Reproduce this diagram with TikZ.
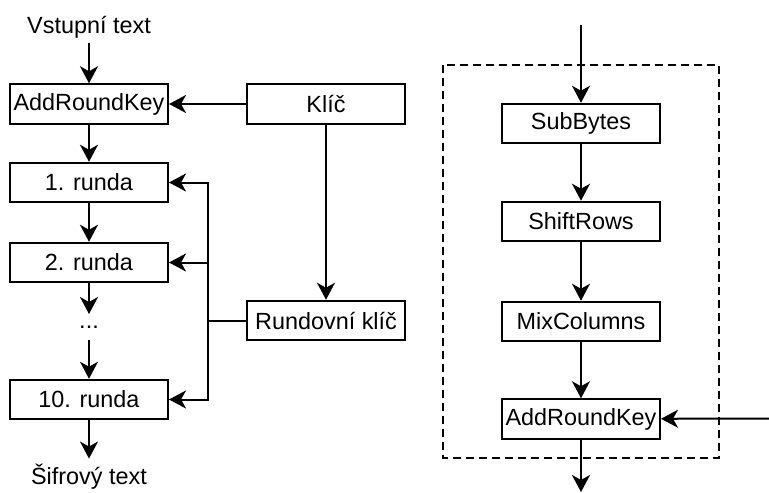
\documentclass[tikz,border=0pt]{standalone}
\usepackage{fontspec}
\setmainfont{Liberation Sans}
\usetikzlibrary{arrows.meta}

\begin{document}
\begin{tikzpicture}[x=1pt, y=-1pt,
  line width=2pt,
  font=\fontsize{23.4}{28}\selectfont,
  box/.style={draw, line width=2pt, minimum width=158pt, minimum height=39.5pt, inner sep=0pt},
  lbl/.style={inner sep=4pt, anchor=base},
  arr/.style={-{Stealth[length=17pt, width=18pt, inset=5pt]}, line width=2pt},
  frame/.style={draw, line width=2pt, dash pattern=on 8pt off 5pt}
]
\useasboundingbox (0,0) rectangle (769,493);

% encryption flow on the left
\node[lbl] (vst) at (89,33.5) {Vstupní text};
\node[box] (ark1) at (89,104) {AddRoundKey};
\node[box] (r1) at (89,182.5) {1. runda};
\node[box] (r2) at (89,262.5) {2. runda};
\node[inner sep=0pt, minimum height=24pt] (dots) at (89,327) {...};
\node[box] (r10) at (89,399.5) {10. runda};
\node[lbl] (sif) at (89,484) {Šifrový text};

\node[box] (key) at (326,104) {Klíč};
\node[box] (rk) at (326,320.5) {Rundovní klíč};

\draw[arr] (vst) -- (ark1);
\draw[arr] (ark1) -- (r1);
\draw[arr] (r1) -- (r2);
\draw[arr] (r2) -- (dots);
\draw[arr] (dots) -- (r10);
\draw[arr] (r10) -- (sif);

\draw[arr] (key) -- (ark1);
\draw[arr] (key) -- (rk);

% round keys distributed to every round
\coordinate (bus) at (208,320.5);
\draw (rk.west) -- (bus);
\draw[arr] (bus) |- (r1.east);
\draw[arr] (bus) |- (r2.east);
\draw[arr] (bus) |- (r10.east);

% one round in detail
\draw[frame] (443,65) rectangle (719,458);
\coordinate (in) at (581,25);
\coordinate (out) at (581,492);
\coordinate (kin) at (769,418.5);
\node[box] (sb) at (581,123.5) {SubBytes};
\node[box] (sr) at (581,221.5) {ShiftRows};
\node[box] (mc) at (581,321.5) {MixColumns};
\node[box] (ark2) at (581,419) {AddRoundKey};

\draw[arr] (in) -- (sb);
\draw[arr] (sb) -- (sr);
\draw[arr] (sr) -- (mc);
\draw[arr] (mc) -- (ark2);
\draw[arr] (ark2) -- (out);
\draw[arr] (kin) -- (ark2);
\end{tikzpicture}
\end{document}
